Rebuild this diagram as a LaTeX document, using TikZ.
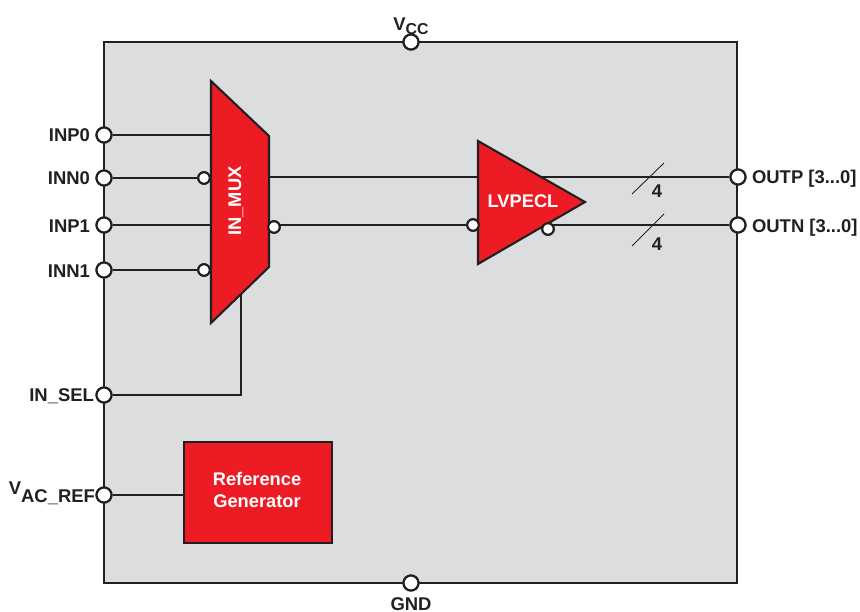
\documentclass[tikz,border=0pt]{standalone}
\usepackage{fontspec}
\setmainfont{Liberation Sans}
\definecolor{chipgray}{HTML}{DCDDDF}
\definecolor{chipred}{HTML}{ED1C24}
\definecolor{inkblack}{HTML}{231F20}
\begin{document}
\begin{tikzpicture}[x=0.02cm,y=-0.02cm,line width=1.2pt,draw=inkblack,
   pin/.style={draw=inkblack,circle,fill=white,inner sep=0pt,minimum size=0.3cm},
   bubble/.style={draw=inkblack,circle,fill=white,inner sep=0pt,minimum size=0.23cm},
   lbl/.style={inner sep=0pt,text=inkblack,font=\bfseries\fontsize{10.5}{12}\selectfont},
   inlbl/.style={inner sep=0pt,text=white,font=\bfseries\fontsize{10.4}{12}\selectfont,align=center},
   block/.style={draw=inkblack,fill=chipred}]
  \useasboundingbox (0,0) rectangle (860,612);
  \draw[fill=chipgray] (104,42) rectangle (737,583);
  % pins
  \node[pin] (inp0) at (104,135) {};
  \node[pin] (inn0) at (104,178) {};
  \node[pin] (inp1) at (104,225) {};
  \node[pin] (inn1) at (104,270) {};
  \node[pin] (insel) at (104,395) {};
  \node[pin] (vacref) at (104,495) {};
  \node[pin] (vcc) at (411,42) {};
  \node[pin] (gnd) at (411,583) {};
  \node[pin] (outp) at (738,177) {};
  \node[pin] (outn) at (738,225) {};
  % inner ends of the connectors
  \coordinate (muxp0) at (211,135);
  \coordinate (muxp1) at (211,225);
  \coordinate (muxsel) at (241,295);
  \coordinate (muxout) at (269,177);
  \coordinate (corner) at (241,395);
  \node[bubble] (muxn0) at (204,178) {};
  \node[bubble] (muxn1) at (204,270) {};
  \node[bubble] (muxoutn) at (274,227) {};
  \node[bubble] (ampn) at (473,225) {};
  \node[bubble] (ampoutn) at (548,229) {};
  \draw (inp0) -- (muxp0);
  \draw (inn0) -- (muxn0);
  \draw (inp1) -- (muxp1);
  \draw (inn1) -- (muxn1);
  \draw (insel) -- (corner) -- (muxsel);
  \draw (muxout) -- (outp);
  \draw (muxoutn |- ampn) -- (ampn);
  \draw (ampoutn |- outn) -- (outn);
  % blocks
  \draw[block] (211,81) -- (269,136) -- (269,267) -- (211,323) -- cycle;
  \draw[block] (478,141) -- (585,202) -- (478,264) -- cycle;
  \node[block,minimum width=2.96cm,minimum height=2.02cm] (refgen) at (258,492.5) {};
  \draw (vacref) -- (vacref -| refgen.west);
  \node[inlbl] (reflbl) at (257,490) {Reference\\Generator};
  \node[inlbl,rotate=90] (muxlbl) at (236,201) {IN\_MUX};
  \node[inlbl] (amplbl) at (523,201) {LVPECL};
  \foreach \p in {inp0,inn0,inp1,inn1,insel,vacref,vcc,gnd,outp,outn}
    \node[pin] at (\p) {};
  \foreach \p in {muxn0,muxn1,muxoutn,ampn,ampoutn}
    \node[bubble] at (\p) {};
  % bus marks
  \draw[line width=0.5pt] (632,194) -- (664,163);
  \draw[line width=0.5pt] (632,246) -- (664,214);
  \node[lbl] (bus4p) at (657,191) {4};
  \node[lbl] (bus4n) at (657,244) {4};
  % pin labels
  \node[lbl,anchor=east] (linp0) at (91,135) {INP0};
  \node[lbl,anchor=east] (linn0) at (91,178) {INN0};
  \node[lbl,anchor=east] (linp1) at (91,226) {INP1};
  \node[lbl,anchor=east] (linn1) at (91,271) {INN1};
  \node[lbl,anchor=east] (linsel) at (95,396) {IN\_SEL};
  \node[lbl,anchor=east] (lvacref) at (96,493) {V\raisebox{-0.8ex}{AC\_REF}};
  \node[lbl] (lvcc) at (411,26) {V\raisebox{-0.4ex}{\fontsize{9}{10}\selectfont CC}};
  \node[lbl] (lgnd) at (411,604) {GND};
  \node[lbl,anchor=west] (loutp) at (751,179) {OUTP [3...0]};
  \node[lbl,anchor=west] (loutn) at (751,228) {OUTN [3...0]};
\end{tikzpicture}
\end{document}
